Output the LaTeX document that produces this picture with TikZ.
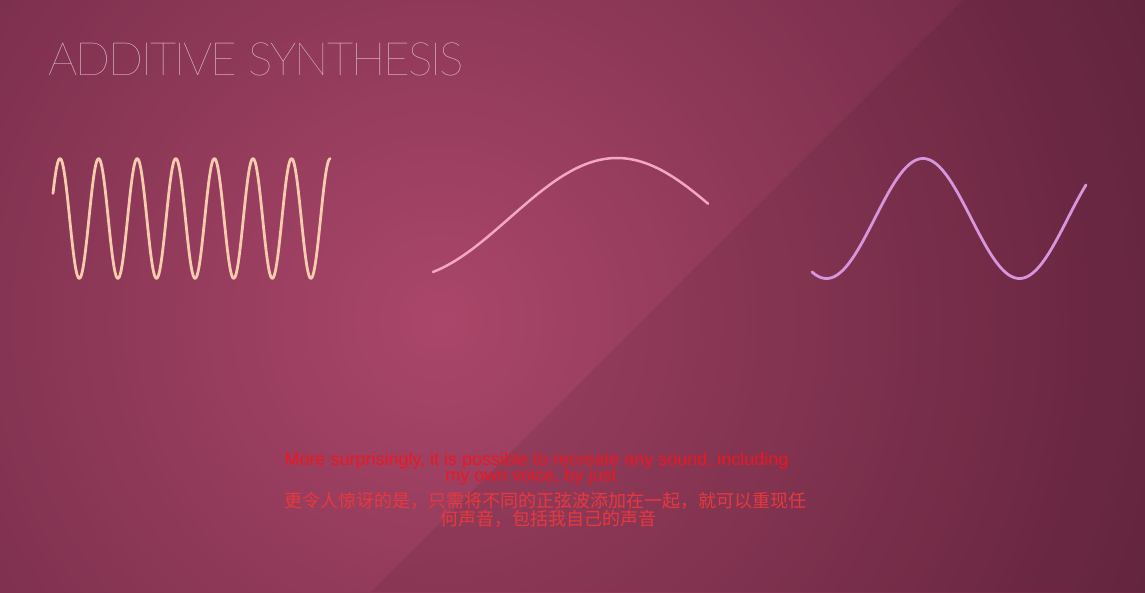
\documentclass[tikz,border=0pt]{standalone}
\usepackage{fontspec}
\usetikzlibrary{positioning}
\IfFontExistsTF{Lato Thin}
  {\newfontfamily\titlefont{Lato Thin}[LetterSpace=-4.5]}
  {\IfFontExistsTF{Lato Hairline}
    {\newfontfamily\titlefont{Lato Hairline}[LetterSpace=-4.5]}
    {\IfFontExistsTF{Lato Light}
      {\newfontfamily\titlefont{Lato Light}[LetterSpace=-4.5]}
      {\newfontfamily\titlefont{Fira Sans}[LetterSpace=-4.5]}}}
\newfontfamily\subfont{Liberation Sans}
\newfontfamily\cjkfont{Noto Sans CJK SC}
\definecolor{plum}{HTML}{AA4669}
\definecolor{deep}{HTML}{4A172E}
\definecolor{peach}{HTML}{F6CBAE}
\definecolor{blush}{HTML}{F4A6C6}
\definecolor{lilac}{HTML}{D796DC}
\definecolor{mist}{HTML}{EAD6E0}
\definecolor{subred}{HTML}{EE1620}
\definecolor{zhred}{HTML}{E8383E}

\begin{document}
\begin{tikzpicture}[x=1pt,y=-1pt,
 wave/.style={line width=2.8pt,line cap=round,line join=round},
 heading/.style={anchor=base west,inner sep=0pt,text=mist,
              font=\titlefont\fontsize{46}{46}\selectfont},
 subline/.style={anchor=base,inner sep=0pt,text=subred,
              font=\subfont\fontsize{18}{18}\selectfont},
 zhline/.style={anchor=base,inner sep=0pt,text=zhred,
              font=\cjkfont\fontsize{18}{18}\selectfont}]
\useasboundingbox (0,0) rectangle (1145,592);
\begin{scope}
\clip (0,0) rectangle (1145,592);
\fill[deep] (0,0) rectangle (1145,592);
\shade[inner color=plum,outer color=deep] (440,320) circle (1150);
\fill[black,opacity=0.07] (963,0) -- (1145,0) -- (1145,592) -- (371,592) -- cycle;
\end{scope}
\node[heading] (title) at (48,75) {ADDITIVE SYNTHESIS};
\draw[wave,draw=peach] plot[domain=53:330,samples=240,smooth]
  (\x,{218.5-60*cos(((\x-60)/38.6)*360)});
\draw[wave,draw=blush,line width=2.5pt] plot[domain=433:708,samples=120,smooth]
  (\x,{218-60*cos(((\x-617)/430)*360)});
\draw[wave,draw=lilac] plot[domain=812:1086,samples=160,smooth]
  (\x,{218.5-60*cos(((\x-923)/193)*360)});
\node[subline] (enfirst) at (536.5,465) {More surprisingly, it is possible to recreate any sound, including};
\node[subline] (ensecond) at (531,481) {my own voice, by just};
\node[zhline] (zhfirst) at (545.5,507) {更令人惊讶的是，只需将不同的正弦波添加在一起，就可以重现任};
\node[zhline] (zhsecond) at (548,525) {何声音，包括我自己的声音};
\end{tikzpicture}
\end{document}
